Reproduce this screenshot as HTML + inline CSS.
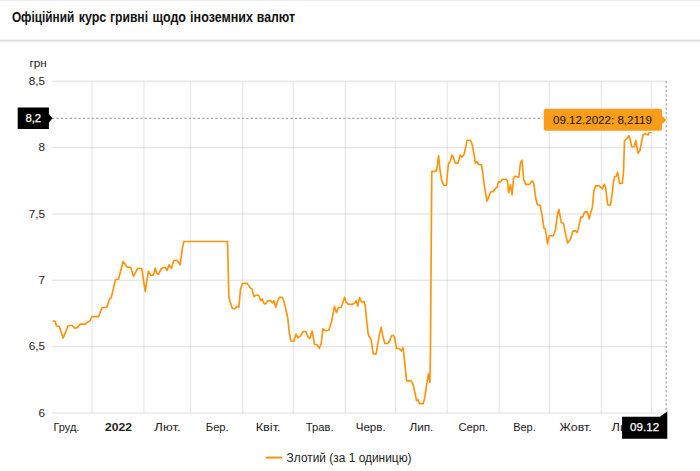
<!DOCTYPE html>
<html lang="uk"><head><meta charset="utf-8"><title>Chart</title>
<style>
html,body{margin:0;padding:0;background:#fff;}
body{width:700px;height:471px;overflow:hidden;font-family:"Liberation Sans",sans-serif;}
svg{display:block;font-family:"Liberation Sans",sans-serif;}
</style></head><body>
<svg width="700" height="471" viewBox="0 0 700 471">
<rect x="0" y="0" width="700" height="471" fill="#ffffff"/>
<rect x="0" y="0" width="700" height="1" fill="#ebebeb"/>
<rect x="0" y="39" width="700" height="1" fill="#f1f1f1"/>
<rect x="0" y="40" width="700" height="1" fill="#dcdcdc"/>
<rect x="0" y="41" width="700" height="1" fill="#f0f0f0"/>
<rect x="0" y="42" width="700" height="1" fill="#f9f9f9"/>
<text x="11.90" y="22.3" font-size="14" font-weight="bold" fill="#111" textLength="62.30" lengthAdjust="spacingAndGlyphs">Офіційний</text>
<text x="78.70" y="22.3" font-size="14" font-weight="bold" fill="#111" textLength="27.50" lengthAdjust="spacingAndGlyphs">курс</text>
<text x="110.00" y="22.3" font-size="14" font-weight="bold" fill="#111" textLength="38.00" lengthAdjust="spacingAndGlyphs">гривні</text>
<text x="152.50" y="22.3" font-size="14" font-weight="bold" fill="#111" textLength="33.50" lengthAdjust="spacingAndGlyphs">щодо</text>
<text x="190.10" y="22.3" font-size="14" font-weight="bold" fill="#111" textLength="62.90" lengthAdjust="spacingAndGlyphs">іноземних</text>
<text x="256.80" y="22.3" font-size="14" font-weight="bold" fill="#111" textLength="38.30" lengthAdjust="spacingAndGlyphs">валют</text>

<rect x="91.40" y="81.1" width="1.3" height="331.8" fill="#000" fill-opacity="0.088"/>
<rect x="143.30" y="81.1" width="1.3" height="331.8" fill="#000" fill-opacity="0.088"/>
<rect x="189.90" y="81.1" width="1.3" height="331.8" fill="#000" fill-opacity="0.088"/>
<rect x="242.10" y="81.1" width="1.3" height="331.8" fill="#000" fill-opacity="0.088"/>
<rect x="292.60" y="81.1" width="1.3" height="331.8" fill="#000" fill-opacity="0.088"/>
<rect x="344.70" y="81.1" width="1.3" height="331.8" fill="#000" fill-opacity="0.088"/>
<rect x="394.80" y="81.1" width="1.3" height="331.8" fill="#000" fill-opacity="0.088"/>
<rect x="446.60" y="81.1" width="1.3" height="331.8" fill="#000" fill-opacity="0.088"/>
<rect x="498.50" y="81.1" width="1.3" height="331.8" fill="#000" fill-opacity="0.088"/>
<rect x="548.70" y="81.1" width="1.3" height="331.8" fill="#000" fill-opacity="0.088"/>
<rect x="600.60" y="81.1" width="1.3" height="331.8" fill="#000" fill-opacity="0.088"/>
<rect x="650.80" y="81.1" width="1.3" height="331.8" fill="#000" fill-opacity="0.088"/>
<rect x="51.8" y="80.55" width="614.5" height="1.3" fill="#000" fill-opacity="0.1"/>
<rect x="51.8" y="146.91" width="614.5" height="1.3" fill="#000" fill-opacity="0.1"/>
<rect x="51.8" y="213.27" width="614.5" height="1.3" fill="#000" fill-opacity="0.1"/>
<rect x="51.8" y="279.63" width="614.5" height="1.3" fill="#000" fill-opacity="0.1"/>
<rect x="51.8" y="345.99" width="614.5" height="1.3" fill="#000" fill-opacity="0.1"/>
<rect x="51.8" y="412.35" width="614.5" height="1.3" fill="#000" fill-opacity="0.1"/>
<text x="46.8" y="66.7" font-size="11.7" fill="#222222" text-anchor="end">грн</text>
<text x="44.9" y="85.00" font-size="11.7" fill="#222222" text-anchor="end">8,5</text>
<text x="44.9" y="151.36" font-size="11.7" fill="#222222" text-anchor="end">8</text>
<text x="44.9" y="217.72" font-size="11.7" fill="#222222" text-anchor="end">7,5</text>
<text x="44.9" y="284.08" font-size="11.7" fill="#222222" text-anchor="end">7</text>
<text x="44.9" y="350.44" font-size="11.7" fill="#222222" text-anchor="end">6,5</text>
<text x="44.9" y="416.80" font-size="11.7" fill="#222222" text-anchor="end">6</text>
<text x="53.4" y="431.25" font-size="11.6" fill="#222222" textLength="26.0" lengthAdjust="spacingAndGlyphs">Груд.</text>
<text x="105.0" y="431.25" font-size="11.6" fill="#222222" font-weight="bold" textLength="26.9" lengthAdjust="spacingAndGlyphs">2022</text>
<text x="154.3" y="431.25" font-size="11.6" fill="#222222" textLength="26.3" lengthAdjust="spacingAndGlyphs">Лют.</text>
<text x="205.8" y="431.25" font-size="11.6" fill="#222222" textLength="22.9" lengthAdjust="spacingAndGlyphs">Бер.</text>
<text x="255.7" y="431.25" font-size="11.6" fill="#222222" textLength="24.9" lengthAdjust="spacingAndGlyphs">Квіт.</text>
<text x="305.8" y="431.25" font-size="11.6" fill="#222222" textLength="27.7" lengthAdjust="spacingAndGlyphs">Трав.</text>
<text x="355.7" y="431.25" font-size="11.6" fill="#222222" textLength="30.0" lengthAdjust="spacingAndGlyphs">Черв.</text>
<text x="409.4" y="431.25" font-size="11.6" fill="#222222" textLength="24.0" lengthAdjust="spacingAndGlyphs">Лип.</text>
<text x="458.5" y="431.25" font-size="11.6" fill="#222222" textLength="29.7" lengthAdjust="spacingAndGlyphs">Серп.</text>
<text x="513.2" y="431.25" font-size="11.6" fill="#222222" textLength="22.6" lengthAdjust="spacingAndGlyphs">Вер.</text>
<text x="559.6" y="431.25" font-size="11.6" fill="#222222" textLength="32.0" lengthAdjust="spacingAndGlyphs">Жовт.</text>
<text x="611.6" y="431.25" font-size="11.6" fill="#222222" textLength="30.0" lengthAdjust="spacingAndGlyphs">Лист.</text>
<polyline points="53.3,321.1 55.1,321.3 56.5,326 59.3,326.4 63.1,338.1 68.2,325.5 72.2,325.5 75,328.3 77.6,327.4 80.4,324.1 85,324.1 88.1,321.8 89.7,321.3 92,316.6 98.6,316.6 101.9,307.8 106.8,307.3 109.6,298.9 111.2,297.9 115.4,279.7 118.5,279.3 123.1,261.5 127.1,266.9 130.6,267.6 133.6,276.2 137.6,268.5 141.8,268.5 145.2,291.5 148.4,271.1 150.5,275.1 153.4,275.1 155.3,268.2 156.8,273.5 158.5,274.3 161,269.2 162.9,267.6 165.4,267.6 167.1,270.5 169,264.8 171.5,268.2 173.8,260.6 176.3,260.2 177.8,261.5 180.1,264.9 182.4,248.1 183.9,241.5 227.5,241.5 228.2,268.2 228.8,296.8 230.1,301.6 232.2,308.3 234.5,308.9 237,306.4 238.9,307 240.5,289.2 242.4,283.5 247.3,283.4 250.5,288.1 252,289.1 253.9,296.4 256.2,295.2 258.7,295.2 260.6,300.6 262.2,299 263.9,303.4 265.4,304 267.7,300.9 270.6,300.6 272.5,302.9 274,300.6 275.7,307.2 277.8,300.6 279.5,297.3 282.4,297.3 284.3,302.5 285.8,309.2 287.7,317.7 289.3,333 291,341 293.9,341.2 296,334 297.9,337.8 300.7,335.9 303,331.5 305.9,331.5 307.8,336.8 309.7,338.4 312.2,331.1 314.5,344.5 317,344.9 319.4,348.3 321.2,343.5 322.9,328.8 325,330.7 328.8,330.2 331.3,322.5 334.5,306.3 336.4,312.4 338.4,307.6 341.2,307.2 344.5,297.4 346.2,302.2 348.2,304.1 351.9,304.4 354.1,303.4 356.3,300.7 357.8,306 359.6,297.7 361.5,301.9 364.2,301.9 365.3,306.3 366.7,321.2 368.2,333.8 369.4,337.3 371.2,339.3 372.4,348.7 373.4,353.9 376.1,353.9 377.4,346.5 379.4,334.6 381.3,327.4 383.1,337.6 385,343.5 387.6,343.5 389.8,340.5 391.7,335.8 393.5,335.3 395,339 396.5,348.4 399.4,348.7 401.4,350.9 403,347.7 404.7,362.3 406.6,380.9 411.3,380.9 413.1,384.6 415.1,393.5 416.5,400.6 418,399.7 419.5,403.6 423.2,403.6 424.7,398 426.5,386.1 428.4,373.9 429.9,382.4 430.4,354.9 431.5,210 431.8,171.3 436,171.3 437.2,166.5 438.6,155.8 439.9,169.1 441.6,180.1 443.7,185.2 446.4,185.2 447.4,174.2 448.4,164 450.1,161.4 451.8,155.1 453.4,157.2 455.2,163.1 458.1,163.1 460.2,155 462,157.2 464.1,154.3 465.8,147 467.1,140.2 470.5,140.2 472.2,144.4 473.9,153.8 475.4,163.1 476.8,161.4 478.5,164.5 481.5,164.8 482.7,172.5 484.4,186 487,201 488.7,197.1 490.4,192 492.9,191.6 495.5,188.6 497.2,186.9 498.5,181.8 500.1,182.3 502.3,179.2 506.2,179.2 507.4,180.9 508.7,192.8 510.4,184.7 512.1,194.9 513.6,177.5 515,176.2 518.8,177.2 520.5,162.7 522,160.2 523.7,179.7 525.8,184.4 529.4,184.4 532.2,180.8 533.7,182.9 535.8,198.8 537.5,204.8 540,205.2 542.2,215.8 543.9,228.1 545.3,229 547.5,243.8 549.2,236 553.4,235.6 555.5,229.6 557.2,215.8 558.9,209.4 561.3,222.6 563.4,223.2 565.5,233.9 567.6,243 570.4,239.2 572.9,231.1 575.1,230.7 577.2,232.4 578.9,226.4 580.8,216.9 582.5,217.5 584.6,212 587.1,211.6 589.2,218.8 590.8,212.5 592.4,207.2 594,190.2 595.6,185.9 599.3,185.9 602.3,188.9 604.3,184.3 605.7,187.5 606.8,197.6 607.8,204.8 610.5,204.8 612.1,194.4 613.7,180.6 614.7,176.6 616.3,176.2 617.6,172.3 618.8,178.5 619.5,183.3 622.2,183.3 623.2,175.3 623.7,166.6 624.5,140.6 626.4,139.1 628.9,135.7 630.1,139.1 631.6,146.5 634.3,146.8 635.8,140.6 637.9,153.2 639.8,151 641.7,141.3 643.2,134.7 645,133.6 648,135.1 649.1,132.1 650.9,132.4 652.4,131.2 654,130 656,128 658,128 660,124 662,122 664,118.5 666,118.3" fill="none" stroke="#ff930a" stroke-width="1.65" stroke-linejoin="round" stroke-linecap="round"/>
<line x1="52" y1="118.3" x2="666.5" y2="118.3" stroke="#a8a8a8" stroke-width="1.2" stroke-dasharray="2.3,2.114"/>
<line x1="666.2" y1="81.1" x2="666.2" y2="412.5" stroke="#a8a8a8" stroke-width="1.3" stroke-dasharray="2.3,2.114"/>
<path d="M17.7 107.4 H48.9 V114.1 L52.5 118.3 L48.9 122.5 V129.0 H17.7 Z" fill="#000"/>
<text x="33.3" y="122.0" font-size="11.4" fill="#fff" stroke="#fff" stroke-width="0.25" text-anchor="middle">8,2</text>
<path d="M622.1 416.8 H659.8 L667.3 411.6 V438.8 H622.1 Z" fill="#000"/>
<text x="644.6" y="431.3" font-size="11.6" fill="#fff" stroke="#fff" stroke-width="0.25" text-anchor="middle">09.12</text>
<path d="M546.3 108.7 H659.6 Q662.1 108.7 662.1 111.2 V116.0 L666.7 120 L662.1 124.0 V128.3 Q662.1 130.8 659.6 130.8 H546.3 Q543.8 130.8 543.8 128.3 V111.2 Q543.8 108.7 546.3 108.7 Z" fill="none" stroke="#f6f8fb" stroke-width="2.6" stroke-linejoin="round"/>
<path d="M546.3 108.7 H659.6 Q662.1 108.7 662.1 111.2 V116.0 L666.7 120 L662.1 124.0 V128.3 Q662.1 130.8 659.6 130.8 H546.3 Q543.8 130.8 543.8 128.3 V111.2 Q543.8 108.7 546.3 108.7 Z" fill="#f9990f" fill-opacity="0.95"/>
<text x="602.5" y="124.0" font-size="11.6" fill="#1a1400" text-anchor="middle" textLength="99" lengthAdjust="spacingAndGlyphs">09.12.2022: 8,2119</text>
<rect x="265.7" y="456.6" width="16.5" height="2" fill="#ff930a"/>
<text x="286.6" y="461.7" font-size="12.5" fill="#222222" textLength="125" lengthAdjust="spacingAndGlyphs">Злотий (за 1 одиницю)</text>
</svg></body></html>
